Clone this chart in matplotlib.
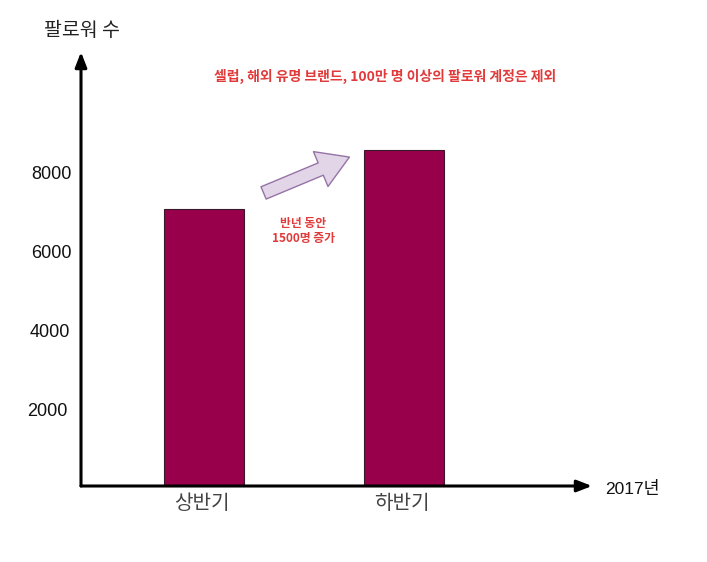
import matplotlib
matplotlib.use("Agg")
import matplotlib.pyplot as plt
from matplotlib.patches import FancyArrowPatch

plt.rcParams['font.family'] = ['Liberation Sans', 'Noto Sans CJK KR', 'DejaVu Sans']

# data
periods = ['상반기', '하반기']
followers = [7000, 8500]
y_ticks = [2000, 4000, 6000, 8000]
y_title = '팔로워 수'
x_title = '2017년'
note = '셀럽, 해외 유명 브랜드, 100만 명 이상의 팔로워 계정은 제외'
growth_note = '반년 동안\n1500명 증가'

BAR_COLOR = '#99004c'
NOTE_COLOR = '#e03a3a'

fig = plt.figure(figsize=(7.07, 5.62), dpi=100)
# axes box: y axis at x=81px, baseline at y=486px, arrow tips at 52px / 592px
ax = fig.add_axes([81 / 707, (562 - 486) / 562, (592 - 81) / 707, (486 - 52) / 562])
ax.set_xlim(-0.615, 1.94)
ax.set_ylim(0, 10987)
ax.axis('off')

x = list(range(len(periods)))
ax.bar(x, followers, width=0.4, color=BAR_COLOR, edgecolor='#3a1a2a', linewidth=0.8, zorder=2)

# axis lines with arrow heads
for tip in [(0, 1), (1, 0)]:
    ax.annotate('', xy=tip, xytext=(0, 0), xycoords='axes fraction',
                arrowprops=dict(arrowstyle='-|>,head_width=0.35,head_length=0.9', color='black',
                                lw=2.2, shrinkA=0, shrinkB=0), zorder=3)

# y tick labels (placed by hand in the original, slightly uneven)
shift = {2000: -0.785, 4000: -0.7725, 6000: -0.7625, 8000: -0.7625}
for v in y_ticks:
    ax.text(shift[v], v - 110, str(v), ha='center', va='center', fontsize=13, color='#111111')

for xi, label in zip(x, periods):
    ax.text(xi - 0.012, -450, label, ha='center', va='center', fontsize=14.5, color='#444444',
            family=['Noto Sans CJK KR'], fontweight='light')

fig.text(81.5 / 707, 1 - 30 / 562, y_title, ha='center', va='center', fontsize=14,
         color='#222222', family=['Noto Sans CJK KR'], fontweight='light')
fig.text(605 / 707, 1 - 489 / 562, x_title, ha='left', va='center', fontsize=12.5,
         color='#111111')

fig.text(385 / 707, 1 - 76 / 562, note, ha='center', va='center', fontsize=10,
         fontweight='bold', color=NOTE_COLOR, family=['Noto Sans CJK KR'])
fig.text(303 / 707, 1 - 231 / 562, growth_note, ha='center', va='center', fontsize=8.5,
         fontweight='bold', color=NOTE_COLOR, linespacing=1.15, family=['Noto Sans CJK KR'])

# block arrow between the bars
arrow = FancyArrowPatch((261 / 707, 1 - 194 / 562), (352 / 707, 1 - 156 / 562),
                        transform=fig.transFigure,
                        arrowstyle='simple,head_width=1.7,head_length=1.4,tail_width=0.6',
                        mutation_scale=16, facecolor='#e1d5e7', edgecolor='#9673a6', lw=1)
fig.patches.append(arrow)

fig.savefig('out.png', dpi=100, facecolor='white')
